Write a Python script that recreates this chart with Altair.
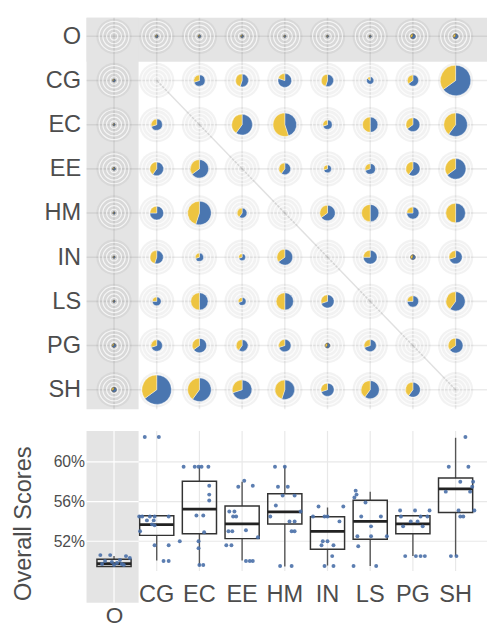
import json
import altair as alt
import pandas as pd

# ---------------- data ----------------
cats = ["O", "CG", "EC", "EE", "HM", "IN", "LS", "PG", "SH"]

# pie sizes (relative radius) per row, columns in the order of cats; None = diagonal
size_O  = [None, 1.5, 1.5, 1.5, 1.2, 1.2, 1.2, 2.5, 2.5]
size_CG = [1.5, None, 5.7, 6.5, 7.0, 6.2, 3.7, 5.7, 15.5]
size_EC = [1.2, 5.7, None, 10.5, 12.0, 4.7, 7.8, 7.0, 12.0]
size_EE = [1.5, 7.0, 9.3, None, 6.0, 4.0, 5.3, 7.2, 10.5]
size_HM = [1.2, 7.0, 12.0, 5.0, None, 7.8, 8.8, 6.2, 10.0]
size_IN = [1.2, 6.7, 4.2, 3.5, 8.0, None, 7.0, 2.5, 6.7]
size_LS = [1.2, 4.5, 8.8, 4.0, 8.8, 6.7, None, 5.8, 9.7]
size_PG = [2.0, 5.8, 7.3, 6.0, 6.3, 2.5, 6.2, None, 7.5]
size_SH = [2.5, 15.0, 12.0, 10.0, 10.0, 6.7, 9.2, 7.5, None]

# yellow share of each pie
share_O  = [None, 0.3, 0.3, 0.3, 0.3, 0.3, 0.3, 0.35, 0.35]
share_CG = [0.3, None, 0.3, 0.45, 0.2, 0.45, 0.15, 0.35, 0.35]
share_EC = [0.3, 0.3, None, 0.4, 0.55, 0.3, 0.5, 0.35, 0.4]
share_EE = [0.3, 0.4, 0.35, None, 0.4, 0.3, 0.3, 0.4, 0.35]
share_HM = [0.3, 0.25, 0.45, 0.4, None, 0.35, 0.5, 0.25, 0.5]
share_IN = [0.3, 0.45, 0.3, 0.3, 0.35, None, 0.25, 0.4, 0.3]
share_LS = [0.3, 0.25, 0.5, 0.3, 0.5, 0.3, None, 0.25, 0.4]
share_PG = [0.3, 0.3, 0.35, 0.4, 0.3, 0.4, 0.3, None, 0.35]
share_SH = [0.3, 0.35, 0.4, 0.3, 0.45, 0.3, 0.4, 0.4, None]

# box statistics (overall score, %)
box_q1  = [49.46, 52.59, 52.75, 52.26, 53.74, 51.20, 52.20, 52.75, 54.90]
box_med = [49.75, 53.68, 55.23, 53.74, 54.97, 52.99, 54.00, 53.74, 57.28]
box_q3  = [50.18, 54.57, 58.04, 55.56, 56.78, 54.47, 56.12, 54.57, 58.37]
box_lo  = [49.45, 50.05, 49.55, 50.05, 49.46, 49.55, 49.50, 50.50, 50.50]
box_hi  = [50.50, 54.57, 59.52, 58.00, 59.58, 55.40, 56.98, 54.57, 62.43]

# individual scores and their horizontal jitter (fraction of a column)
pts_O  = [50.6, 50.6, 50.5, 50.3, 50.0, 49.9, 49.8, 49.7, 49.7, 49.6, 49.6, 50.1]
jit_O  = [-0.32, -0.09, 0.28, 0.37, -0.21, -0.05, 0.07, 0.18, -0.28, 0.0, 0.23, 0.14]
pts_CG = [62.5, 62.5, 54.5, 54.5, 54.5, 54.5, 54.5, 54.1, 54.1, 53.7, 53.6, 53.0, 51.6, 51.6, 50.0, 50.0]
jit_CG = [-0.28, 0.05, -0.41, -0.34, -0.16, -0.05, 0.28, -0.23, -0.07, -0.11, -0.05, -0.39, -0.05, 0.28, 0.16, 0.28]
pts_EC = [59.5, 59.5, 59.5, 59.5, 59.5, 57.6, 56.7, 56.1, 54.6, 54.6, 52.9, 52.0, 52.0, 51.3, 49.6, 49.6]
jit_EC = [-0.37, -0.11, -0.02, 0.05, 0.21, 0.23, 0.23, 0.23, -0.07, 0.09, 0.11, -0.46, -0.02, -0.02, 0.0, 0.09]
pts_EE = [58.1, 57.6, 57.5, 55.0, 55.0, 54.5, 54.5, 53.1, 53.0, 53.0, 52.4, 51.6, 51.6, 50.0, 50.0, 50.0]
jit_EE = [0.05, 0.25, -0.09, -0.30, -0.18, -0.14, -0.21, 0.09, -0.32, -0.23, 0.37, -0.37, -0.25, 0.09, 0.18, 0.25]
pts_HM = [59.5, 59.5, 57.5, 57.5, 56.6, 56.6, 55.6, 55.0, 54.5, 54.0, 54.0, 53.0, 53.0, 49.5, 49.5]
jit_HM = [-0.23, 0.0, -0.16, 0.07, -0.05, 0.23, -0.21, 0.37, -0.34, 0.11, 0.23, 0.16, 0.23, -0.11, 0.16]
pts_IN = [55.5, 55.5, 54.5, 54.5, 54.5, 54.0, 52.0, 52.0, 51.6, 51.6, 50.5, 49.5, 49.5]
jit_IN = [-0.21, 0.37, -0.34, -0.07, 0.0, 0.28, -0.11, 0.0, -0.14, 0.14, 0.11, -0.07, 0.14]
pts_LS = [57.1, 56.7, 56.4, 55.9, 54.5, 54.5, 53.5, 52.5, 52.5, 52.5, 51.5, 49.5, 49.5]
jit_LS = [-0.34, -0.32, -0.37, -0.11, -0.21, 0.25, 0.02, -0.30, 0.02, 0.39, -0.28, -0.39, 0.14]
pts_PG = [55.1, 55.1, 55.1, 54.5, 54.5, 54.5, 54.0, 54.0, 53.5, 53.5, 50.5, 50.5, 50.5, 50.5]
jit_PG = [-0.30, 0.05, 0.39, -0.28, 0.18, 0.34, -0.05, 0.11, -0.23, 0.23, -0.18, 0.07, 0.18, 0.28]
pts_SH = [62.5, 59.5, 59.5, 58.0, 58.0, 57.5, 57.0, 57.0, 55.1, 55.1, 54.5, 54.5, 50.5, 50.5]
jit_SH = [0.23, -0.16, 0.30, 0.11, 0.41, 0.39, -0.23, 0.34, 0.07, 0.44, 0.11, 0.18, -0.11, 0.02]

score_ticks = [52, 56, 60]

# ---------------- style ----------------
BLUE = "#4a76b0"
YELLOW = "#edc441"
PANEL_GREY = "#e4e4e4"
TEXT = "#4d4d4d"
FONT = "Liberation Sans"

XMIN, XMAX = -0.644, 8.736
YMIN, YMAX = -0.422, 8.444
EDGE = 0.575
SMIN, SMAX = 45.8, 63.12
W, H_TOP, H_BOT = 408, 399, 175

sizes = [size_O, size_CG, size_EC, size_EE, size_HM, size_IN, size_LS, size_PG, size_SH]
shares = [share_O, share_CG, share_EC, share_EE, share_HM, share_IN, share_LS, share_PG, share_SH]
pts = [pts_O, pts_CG, pts_EC, pts_EE, pts_HM, pts_IN, pts_LS, pts_PG, pts_SH]
jits = [jit_O, jit_CG, jit_EC, jit_EE, jit_HM, jit_IN, jit_LS, jit_PG, jit_SH]

pie_rows = []
for j in range(9):
    for i in range(9):
        s, f = sizes[j][i], shares[j][i]
        if s is None:
            continue
        pie_rows.append(dict(row=j, col=i, size=s, part="blue", t0=0.0, t1=1 - f))
        pie_rows.append(dict(row=j, col=i, size=s, part="yellow", t0=1 - f, t1=1.0))
pie_df = pd.DataFrame(pie_rows)
cells_df = pd.DataFrame([dict(row=j, col=i) for j in range(9) for i in range(9)])
idx_df = pd.DataFrame({"k": list(range(9))})
diag_df = pd.DataFrame({"a": [1], "b": [8]})
band_top_df = pd.DataFrame({
    "x0": [XMIN, XMIN], "x1": [XMAX, EDGE], "y0": [YMIN, YMIN], "y1": [EDGE, YMAX]})

xs = alt.Scale(domain=[XMIN, XMAX], nice=False, zero=False)
ys = alt.Scale(domain=[YMIN, YMAX], nice=False, zero=False, reverse=True)
label_expr = json.dumps(cats) + "[datum.value]"
yaxis_top = alt.Axis(values=list(range(9)), labelExpr=label_expr, title=None,
                     domain=False, ticks=False, grid=False, labelFontSize=24,
                     labelColor=TEXT, labelFont=FONT, labelPadding=6)

def XT(f):
    return alt.X(f, scale=xs, axis=None)

def YT(f):
    return alt.Y(f, scale=ys, axis=yaxis_top)

bands = alt.Chart(band_top_df).mark_rect(color=PANEL_GREY).encode(
    x=XT("x0:Q"), x2="x1:Q", y=YT("y0:Q"), y2="y1:Q")
vgrid = alt.Chart(idx_df).mark_rule(color="black", opacity=0.08, strokeWidth=1.6).encode(
    x=XT("k:Q"))
hgrid = alt.Chart(idx_df).mark_rule(color="black", opacity=0.08, strokeWidth=1.6).encode(
    y=YT("k:Q"))
diag = alt.Chart(diag_df).mark_rule(color="black", opacity=0.12, strokeWidth=1.5).encode(
    x=XT("a:Q"), y=YT("a:Q"), x2="b:Q", y2="b:Q")
discs = alt.Chart(cells_df).mark_circle(color="black", opacity=0.05, size=1296).encode(
    x=XT("col:Q"), y=YT("row:Q"))
rings = [
    alt.Chart(cells_df).mark_point(shape="circle", filled=False, color="white",
                                   strokeWidth=1.2, opacity=0.75, size=sz).encode(
        x=XT("col:Q"), y=YT("row:Q"))
    for sz in (58, 231, 520, 924)
]
pies = alt.Chart(pie_df).transform_calculate(
    th0="2*PI*datum.t0", th1="2*PI*datum.t1"
).mark_arc().encode(
    x=XT("col:Q"), y=YT("row:Q"),
    theta=alt.Theta("th0:Q", scale=None, stack=None),
    theta2="th1:Q",
    radius=alt.Radius("size:Q", scale=alt.Scale(domain=[0, 18], range=[0, 18])),
    color=alt.Color("part:N", scale=alt.Scale(domain=["blue", "yellow"], range=[BLUE, YELLOW]),
                    legend=None),
    stroke=alt.condition("datum.size < 3", alt.value("#5a5a5a"), alt.value("white")),
    strokeWidth=alt.condition("datum.size < 3", alt.value(0.6), alt.value(0.4)),
)

top = alt.layer(bands, vgrid, hgrid, diag, discs, *rings, pies).properties(
    width=W, height=H_TOP)

# ---------------- bottom panel ----------------
box_df = pd.DataFrame({"col": list(range(9)), "q1": box_q1, "med": box_med, "q3": box_q3,
                       "lo": box_lo, "hi": box_hi})
pt_rows = []
for i in range(9):
    for v, jt in zip(pts[i], jits[i]):
        pt_rows.append(dict(col=i, score=v, jit=jt))
pt_df = pd.DataFrame(pt_rows)
tick_df = pd.DataFrame({"s": score_ticks})
lab_df = pd.DataFrame({"col": list(range(1, 9)), "name": cats[1:]})
band_bot_df = pd.DataFrame({"x0": [XMIN], "x1": [EDGE], "y0": [SMIN], "y1": [SMAX]})

ss = alt.Scale(domain=[SMIN, SMAX], nice=False, zero=False)
yaxis_bot = alt.Axis(values=score_ticks, labelExpr="datum.value + '%'", title="Overall Scores",
                     domain=False, ticks=False, grid=False, labelFontSize=16,
                     labelColor=TEXT, labelFont=FONT, labelPadding=2,
                     titleFontSize=24, titleFontWeight="normal", titleColor=TEXT,
                     titleFont=FONT, titleAngle=270, titleBaseline="bottom",
                     titleAlign="center", titleX=-52, titleY=94)
xaxis_bot = alt.Axis(values=[0], labelExpr="'O'", title=None, domain=False, ticks=False,
                     tickSize=0, grid=False, labelFontSize=23, labelColor=TEXT,
                     labelFont=FONT, labelPadding=2)

def XB(f):
    return alt.X(f, scale=xs, axis=xaxis_bot)

def YB(f):
    return alt.Y(f, scale=ss, axis=yaxis_bot)

bband = alt.Chart(band_bot_df).mark_rect(color=PANEL_GREY).encode(
    x=XB("x0:Q"), x2="x1:Q", y=YB("y0:Q"), y2="y1:Q")
hg_white = alt.Chart(tick_df).transform_calculate(a=str(EDGE), b=str(XMAX)).mark_rule(
    color="#e8e8e8", strokeWidth=1.2).encode(x=XB("a:Q"), x2="b:Q", y=YB("s:Q"))
hg_grey = alt.Chart(tick_df).transform_calculate(a=str(XMIN), b=str(EDGE)).mark_rule(
    color="white", strokeWidth=1.2).encode(x=XB("a:Q"), x2="b:Q", y=YB("s:Q"))
vg_white = alt.Chart(lab_df).transform_calculate(a="49.0", b=str(SMAX)).mark_rule(
    color="#e8e8e8", strokeWidth=1.2).encode(x=XB("col:Q"), y=YB("a:Q"), y2="b:Q")
vg_grey = alt.Chart(box_df).transform_filter("datum.col == 0").mark_rule(
    color="white", strokeWidth=1.2).encode(x=XB("col:Q"))
whisk_hi = alt.Chart(box_df).mark_rule(color="#555555", strokeWidth=1.4).encode(
    x=XB("col:Q"), y=YB("q3:Q"), y2="hi:Q")
whisk_lo = alt.Chart(box_df).mark_rule(color="#555555", strokeWidth=1.4).encode(
    x=XB("col:Q"), y=YB("lo:Q"), y2="q1:Q")
boxes = alt.Chart(box_df).transform_calculate(
    a="datum.col - 0.4", b="datum.col + 0.4"
).mark_rect(fillOpacity=0, stroke="#333333", strokeWidth=1.5).encode(
    x=XB("a:Q"), x2="b:Q", y=YB("q1:Q"), y2="q3:Q")
medians = alt.Chart(box_df).transform_calculate(
    a="datum.col - 0.4", b="datum.col + 0.4"
).mark_rule(color="#222222", strokeWidth=2.8).encode(
    x=XB("a:Q"), x2="b:Q", y=YB("med:Q"))
points = alt.Chart(pt_df).transform_calculate(
    xp="datum.col + datum.jit"
).mark_circle(color="#4a70a8", opacity=0.9, size=16).encode(
    x=XB("xp:Q"), y=YB("score:Q"))
labels = alt.Chart(lab_df).transform_calculate(yl="46.55").mark_text(
    fontSize=24, color=TEXT, font=FONT, baseline="middle").encode(
    x=XB("col:Q"), y=YB("yl:Q"), text="name:N")

bottom = alt.layer(bband, hg_white, hg_grey, vg_white, vg_grey, whisk_hi, whisk_lo,
                   boxes, medians, points, labels).properties(width=W, height=H_BOT)

chart = alt.vconcat(top, bottom, spacing=22, bounds="flush").properties(
    padding={"left": 4, "top": 3, "right": 0, "bottom": 0}
).configure_view(strokeWidth=0)

chart.save("out.html", embed_options={"renderer": "svg", "actions": False})
